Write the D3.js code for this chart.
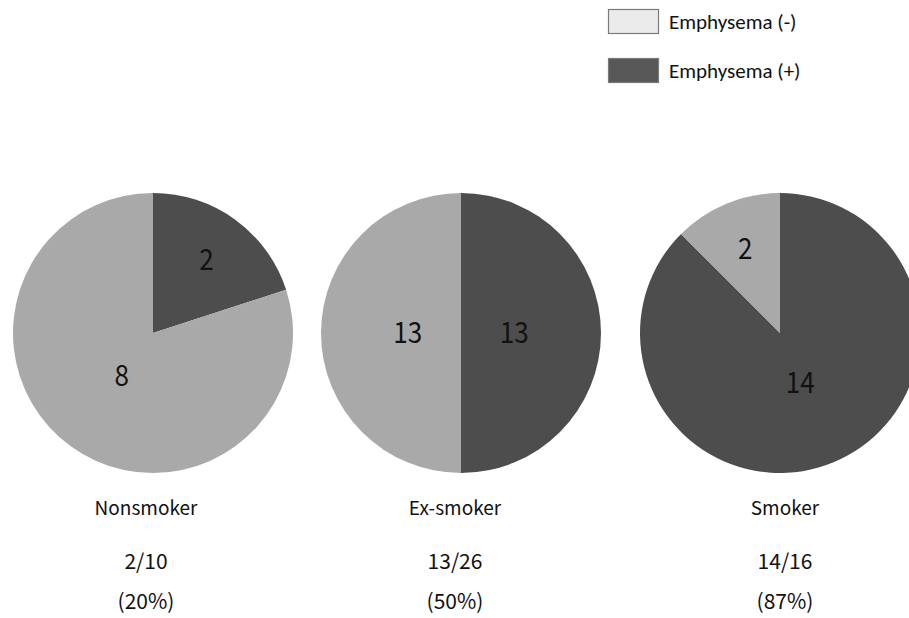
<!DOCTYPE html>
<html>
<head>
<meta charset="utf-8">
<script src="https://cdn.jsdelivr.net/npm/d3@7"></script>
<style>
  html, body { margin: 0; padding: 0; background: #fff; }
  svg { display: block; }
</style>
</head>
<body>
<svg id="chart" width="909" height="618"></svg>
<script>
// Smoking status groups and emphysema counts
const groups = ["Nonsmoker", "Ex-smoker", "Smoker"];
const emphysemaPos = [2, 13, 14];
const emphysemaNeg = [8, 13, 2];
const legendLabels = ["Emphysema (-)", "Emphysema (+)"];

const svg = d3.select("#chart");

const sliceColor = { pos: "#4d4d4d", neg: "#a9a9a9" };
const legendColor = ["#ebebeb", "#575757"];
const numFont = "'Noto Sans CJK JP', 'Noto Sans', sans-serif";

// pie centres and caption columns
const xPie = d3.scaleOrdinal().domain(groups).range([153, 461, 780]);
const xCap = d3.scaleOrdinal().domain(groups).range([146, 455, 785]);
const cy = 333, R = 140;

const pie = d3.pie().sort(null).value(d => d.value);
const arc = d3.arc().innerRadius(0).outerRadius(R);

groups.forEach((g, i) => {
  const slices = [
    { key: "pos", value: emphysemaPos[i] },
    { key: "neg", value: emphysemaNeg[i] }
  ];
  const total = d3.sum(slices, d => d.value);
  const gp = svg.append("g").attr("transform", `translate(${xPie(g)},${cy})`);
  const arcs = pie(slices);

  gp.selectAll("path").data(arcs).join("path")
    .attr("d", arc)
    .attr("fill", d => sliceColor[d.data.key]);

  // small slices get their count near the rim, large ones closer to the centre
  gp.selectAll("text").data(arcs).join("text")
    .attr("transform", d => {
      const frac = d.data.value / total;
      const r = frac < 0.25 ? 0.65 * R : 0.38 * R;
      const a = (d.startAngle + d.endAngle) / 2;
      return `translate(${r * Math.sin(a)},${-r * Math.cos(a)}) scale(0.9,1)`;
    })
    .attr("text-anchor", "middle")
    .attr("dy", "0.36em")
    .style("font-family", numFont)
    .style("font-size", "29px")
    .attr("fill", "#111")
    .text(d => d.data.value);

  // captions under each pie
  const pct = Math.floor(100 * emphysemaPos[i] / total);
  const cap = svg.append("g").attr("transform", `translate(${xCap(g)},0)`)
    .attr("text-anchor", "middle")
    .style("font-family", numFont)
    .attr("fill", "#111");
  cap.append("text").attr("y", 515).style("font-size", "19px").text(g);
  cap.append("text").attr("y", 569).style("font-size", "21px").text(`${emphysemaPos[i]}/${total}`);
  cap.append("text").attr("y", 609).style("font-size", "21px").text(`(${pct}%)`);
});

// legend
const leg = svg.append("g").attr("transform", "translate(608,9)");
legendLabels.forEach((t, i) => {
  const row = leg.append("g").attr("transform", `translate(0,${i * 49})`);
  row.append("rect")
    .attr("x", 0.5).attr("y", 0.5)
    .attr("width", 50).attr("height", 24)
    .attr("fill", legendColor[i])
    .attr("stroke", "#7a7a7a").attr("stroke-width", 1.2);
  row.append("text")
    .attr("x", 61).attr("y", 19.5)
    .style("font-family", "Carlito, Lato, 'Open Sans', sans-serif")
    .style("font-size", "21px")
    .attr("fill", "#111")
    .text(t);
});
</script>
</body>
</html>
